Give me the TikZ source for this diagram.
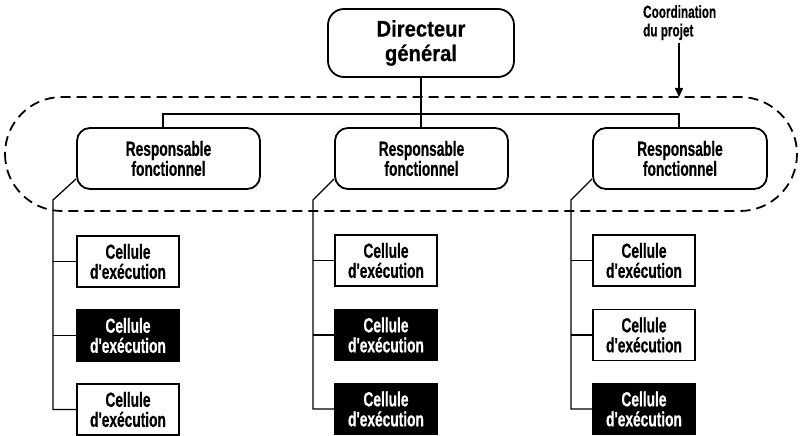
\documentclass[tikz,border=0pt]{standalone}
\usepackage{fontspec}
\setmainfont{Liberation Sans}
\newfontfamily\condfont{Liberation Sans}[FakeStretch=0.67, FakeBold=0.5]
\newfontfamily\dirfont{Liberation Sans}[FakeStretch=0.9, FakeBold=0.4]
\usetikzlibrary{arrows.meta}

\begin{document}
\begin{tikzpicture}[x=1pt,y=-1pt,
  txt/.style={font=\condfont\bfseries\fontsize{20.5}{20}\selectfont, align=center, inner sep=0pt},
  dirbox/.style={draw, line width=1.8pt, rounded corners=16pt, minimum width=186pt,
    minimum height=68pt, inner sep=0pt, align=center,
    font=\dirfont\bfseries\fontsize{22.5}{24.5}\selectfont},
  respbox/.style={txt, draw, line width=1.8pt, rounded corners=13pt, minimum height=61pt},
  cell/.style={txt, draw, line width=1.8pt, minimum width=102pt, minimum height=51pt},
  darkcell/.style={cell, fill=black, text=white},
  link/.style={line width=1.3pt},
  group/.style={dash pattern=on 10pt off 6pt, line width=1.8pt, rounded corners=57pt},
  note/.style={font=\condfont\bfseries\fontsize{17.5}{18.5}\selectfont, align=left, inner sep=0pt}
]
\useasboundingbox (0,0) rectangle (801,436);

% project coordination group
\draw[group] (5,97) rectangle (797,211);

% top management
\node[dirbox] (dir) at (421,43) {Directeur\\général};

% functional managers
\node[respbox, minimum width=183pt] (r1) at (168.5,158.5) {Responsable\\fonctionnel};
\node[respbox, minimum width=173pt] (r2) at (421.5,158.5) {Responsable\\fonctionnel};
\node[respbox, minimum width=174pt] (r3) at (680,158.5) {Responsable\\fonctionnel};

% execution cells
\node[cell]     (c11) at (128,261.5) {Cellule\\d'exécution};
\node[darkcell] (c12) at (128,335.5) {Cellule\\d'exécution};
\node[cell]     (c13) at (128,409.5) {Cellule\\d'exécution};

\node[cell]     (c21) at (386,260.5) {Cellule\\d'exécution};
\node[darkcell] (c22) at (386,335) {Cellule\\d'exécution};
\node[darkcell] (c23) at (386,409) {Cellule\\d'exécution};

\node[cell]     (c31) at (644,260.5) {Cellule\\d'exécution};
\node[cell]     (c32) at (644,335) {Cellule\\d'exécution};
\node[darkcell] (c33) at (644,409) {Cellule\\d'exécution};

% label and arrow
\node[note, anchor=north west] (coord) at (643,5) {Coordination\\du projet};
\coordinate (grouptop) at (679,97);
\draw[line width=1.5pt, -{Triangle[length=9pt,width=8pt]}]
  (coord.south -| grouptop) ++(0,3) -- (grouptop);

% hierarchy bus
\coordinate (busL) at (163,114);
\coordinate (busR) at (679,114);
\draw[link] (dir.south) -- (dir.south |- r2.north);
\draw[link] (busL |- r1.north) -- (busL) -- (busR) -- (busR |- r3.north);

% trunks down to the cells
\coordinate (k1) at (53,200);
\coordinate (k2) at (313,200);
\coordinate (k3) at (571,200);

\draw[link] ([yshift=11pt]r1.south west) -- (k1) -- (k1 |- c13.west) -- (c13.west);
\draw[link] (k1 |- c11.west) -- (c11.west);
\draw[link] (k1 |- c12.west) -- (c12.west);

\draw[link] ([yshift=11pt]r2.south west) -- (k2) -- (k2 |- c23.west) -- (c23.west);
\draw[link] (k2 |- c21.west) -- (c21.west);
\draw[link] (k2 |- c22.west) -- (c22.west);

\draw[link] ([yshift=11pt]r3.south west) -- (k3) -- (k3 |- c33.west) -- (c33.west);
\draw[link] (k3 |- c31.west) -- (c31.west);
\draw[link] (k3 |- c32.west) -- (c32.west);
\end{tikzpicture}
\end{document}
